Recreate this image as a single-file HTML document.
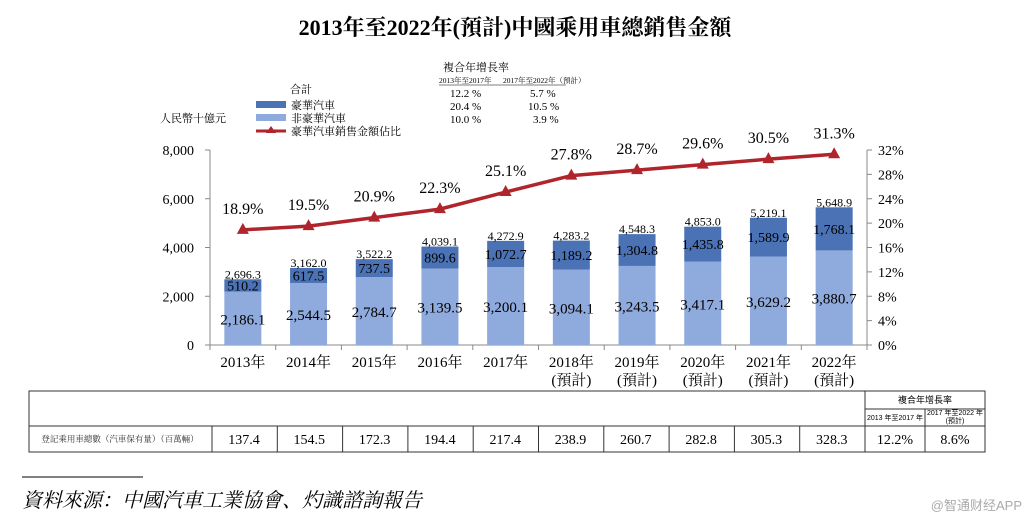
<!DOCTYPE html>
<html><head><meta charset="utf-8"><style>
body{margin:0;background:#fff;width:1031px;height:523px;overflow:hidden;position:relative;font-family:"Liberation Serif","Noto Serif CJK SC",serif;}
svg{position:absolute;left:0;top:0}
</style></head><body>
<svg width="1031" height="523" id="chart" font-family="Liberation Serif, Noto Serif CJK SC, serif">
<text x="515" y="35" text-anchor="middle" font-size="22" font-weight="bold">2013年至2022年(預計)中國乘用車總銷售金額</text>
<g id="legend" font-size="11">
<text x="290" y="93">合計</text>
<rect x="256" y="101" width="30" height="7" fill="#4a72b4"/>
<text x="291" y="109">豪華汽車</text>
<rect x="256" y="114" width="30" height="7" fill="#8faadc"/>
<text x="291" y="122">非豪華汽車</text>
<line x1="256" y1="131" x2="286" y2="131" stroke="#b0252c" stroke-width="3"/>
<polygon points="271,126 266,133 276,133" fill="#b0252c"/>
<text x="291" y="135">豪華汽車銷售金額佔比</text>
</g>
<g>
<text x="476" y="71" text-anchor="middle" font-size="11">複合年增長率</text>
<text x="439" y="83" font-size="7.5">2013年至2017年</text>
<text x="503" y="83" font-size="7.5">2017年至2022年（預計）</text>
<line x1="439" y1="85" x2="566" y2="85" stroke="#000" stroke-width="0.6"/>
<g font-size="11">
<text x="450" y="97">12.2 %</text><text x="530" y="97">5.7 %</text>
<text x="450" y="110">20.4 %</text><text x="528" y="110">10.5 %</text>
<text x="450" y="123">10.0 %</text><text x="533" y="123">3.9 %</text>
</g></g>
<text x="160" y="122" font-size="11">人民幣十億元</text>
<g id="axes"></g><g id="bars"></g><g id="line"></g>
<g id="table" stroke="#333" stroke-width="1" fill="none">
<rect x="29" y="391" width="956" height="61"/>
<line x1="29" y1="426" x2="985" y2="426"/>
<line x1="865" y1="391" x2="865" y2="452"/>
<line x1="865" y1="409" x2="985" y2="409"/>
<line x1="925" y1="409" x2="925" y2="452"/>
</g>
<text x="925" y="403" text-anchor="middle" font-size="9" font-family="Liberation Sans, Noto Sans CJK SC, sans-serif">複合年增長率</text>
<text x="895" y="420" text-anchor="middle" font-size="7" font-family="Liberation Sans, Noto Sans CJK SC, sans-serif">2013 年至2017 年</text>
<text x="955" y="415" text-anchor="middle" font-size="7" font-family="Liberation Sans, Noto Sans CJK SC, sans-serif">2017 年至2022 年</text>
<text x="955" y="423" text-anchor="middle" font-size="7" font-family="Liberation Sans, Noto Sans CJK SC, sans-serif">(預計)</text>
<text x="120" y="442" text-anchor="middle" font-size="8.5" fill="#333">登記乘用車總數（汽車保有量）（百萬輛）</text>
<text x="895" y="444" text-anchor="middle" font-size="14">12.2%</text>
<text x="955" y="444" text-anchor="middle" font-size="14">8.6%</text>
<line x1="22" y1="477" x2="143" y2="477" stroke="#000" stroke-width="1"/>
<text x="22" y="507" font-size="20" font-style="italic">資料來源：中國汽車工業協會、灼識諮詢報告</text>
<text x="1022" y="510" text-anchor="end" font-size="13" fill="#aaa" font-family="Liberation Sans, Noto Sans CJK SC, sans-serif">@智通财经APP</text>
</svg>
<script>
const years=["2013年","2014年","2015年","2016年","2017年","2018年","2019年","2020年","2021年","2022年"];
const forecast=[false,false,false,false,false,true,true,true,true,true];
const nonLuxury=[2186.1,2544.5,2784.7,3139.5,3200.1,3094.1,3243.5,3417.1,3629.2,3880.7];
const luxury=[510.2,617.5,737.5,899.6,1072.7,1189.2,1304.8,1435.8,1589.9,1768.1];
const totals=[2696.3,3162.0,3522.2,4039.1,4272.9,4283.2,4548.3,4853.0,5219.1,5648.9];
const share=[18.9,19.5,20.9,22.3,25.1,27.8,28.7,29.6,30.5,31.3];
const registered=[137.4,154.5,172.3,194.4,217.4,238.9,260.7,282.8,305.3,328.3];
const leftTicks=[0,2000,4000,6000,8000];
const rightTicks=[0,4,8,12,16,20,24,28,32];
const NS="http://www.w3.org/2000/svg";
const X0=210,X1=867,Y0=345,Y1=150,cw=(X1-X0)/years.length;
const yL=v=>Y0-v/8000*(Y0-Y1), yR=v=>Y0-v/32*(Y0-Y1), xc=i=>X0+cw*(i+0.5);
function mk(p,tag,a,txt){const e=document.createElementNS(NS,tag);for(const k in a)e.setAttribute(k,a[k]);if(txt!=null)e.textContent=txt;p.appendChild(e);return e;}
const fmt=v=>v.toLocaleString('en-US',{minimumFractionDigits:1,maximumFractionDigits:1});
const ax=document.getElementById('axes'),bg=document.getElementById('bars'),lg=document.getElementById('line');
let e=mk(ax,'line',{x1:X0,y1:Y1,x2:X0,y2:Y0,stroke:'#888'});


e=mk(ax,'line',{x1:X1,y1:Y1,x2:X1,y2:Y0,stroke:'#888'});


e=mk(ax,'line',{x1:X0,y1:Y0,x2:X1,y2:Y0,stroke:'#888'});


leftTicks.forEach(t=>{mk(ax,'line',{x1:X0-5,x2:X0,y1:yL(t),y2:yL(t),stroke:'#888'});
e=mk(ax,'text',{x:X0-16,y:yL(t)+5,'text-anchor':'end','font-size':14},t.toLocaleString('en-US'));

});
rightTicks.forEach(t=>{mk(ax,'line',{x1:X1,x2:X1+5,y1:yR(t),y2:yR(t),stroke:'#888'});
e=mk(ax,'text',{x:X1+11,y:yR(t)+5,'font-size':14},t+'%');

});
for(let i=0;i<=years.length;i++)mk(ax,'line',{x1:X0+cw*i,x2:X0+cw*i,y1:Y0,y2:Y0+5,stroke:'#888'});
const bw=37;
years.forEach((y,i)=>{const x=xc(i);
e=mk(ax,'text',{x:x,y:367,'text-anchor':'middle','font-size':15},y);


if(forecast[i]){e=mk(ax,'text',{x:x,y:385,'text-anchor':'middle','font-size':15},'(預計)');

}
const yn=yL(nonLuxury[i]),yt=yL(nonLuxury[i]+luxury[i]);
e=mk(bg,'rect',{x:x-bw/2,y:yn,width:bw,height:Y0-yn,fill:'#8faadc'});


e=mk(bg,'rect',{x:x-bw/2,y:yt,width:bw,height:yn-yt,fill:'#4a72b4'});


e=mk(bg,'text',{x:x,y:(yn+Y0)/2+6,'text-anchor':'middle','font-size':15},fmt(nonLuxury[i]));


e=mk(bg,'text',{x:x,y:(yn+yt)/2+5,'text-anchor':'middle','font-size':14},fmt(luxury[i]));


e=mk(bg,'text',{x:x,y:yL(totals[i])-1,'text-anchor':'middle','font-size':12},fmt(totals[i]));


e=mk(document.getElementById('chart'),'text',{x:(i===0?244:212+65.3*i+32),y:444,'text-anchor':'middle','font-size':14},registered[i].toFixed(1));


});
for(let i=1;i<10;i++)mk(document.getElementById('table'),'line',{x1:212+65.3*i,x2:212+65.3*i,y1:426,y2:452});
mk(document.getElementById('table'),'line',{x1:212,x2:212,y1:426,y2:452});
e=mk(lg,'polyline',{points:share.map((s,i)=>xc(i)+','+yR(s)).join(' '),fill:'none',stroke:'#b0252c','stroke-width':3.5});


share.forEach((s,i)=>{const x=xc(i),y=yR(s);
e=mk(lg,'polygon',{points:`${x},${y-7} ${x-6},${y+4} ${x+6},${y+4}`,fill:'#b0252c'});


e=mk(lg,'text',{x:x,y:y-16,'text-anchor':'middle','font-size':16},s.toFixed(1)+'%');

});
</script>
</body></html>
